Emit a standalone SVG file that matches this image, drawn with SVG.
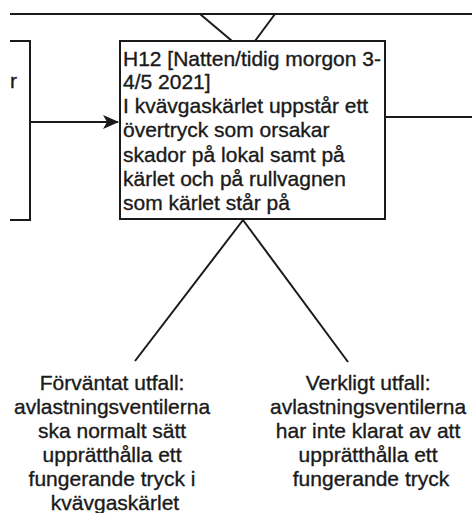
<svg xmlns="http://www.w3.org/2000/svg" width="472" height="513" viewBox="0 0 472 513">
<style>
.ln{stroke:#1a1a1a;stroke-width:2;fill:none}
.box{fill:#ffffff;stroke:#1a1a1a;stroke-width:2}
.t{font-family:"Liberation Sans",Arial,sans-serif;font-size:21px;fill:#1a1a1a;stroke:#1a1a1a;stroke-width:0.35}
.c{text-anchor:middle}
</style>
<defs>
<marker id="ah" viewBox="0 0 16 14" refX="15" refY="7" markerWidth="16" markerHeight="14" markerUnits="userSpaceOnUse" orient="auto">
<path d="M0,0 L16,7 L0,14 L4,7 Z" fill="#1a1a1a"/>
</marker>
</defs>
<rect width="472" height="513" fill="#ffffff"/>
<g id="connectors">
<line class="ln" x1="10" y1="14" x2="472" y2="14"/>
<line class="ln" x1="200" y1="14" x2="232" y2="41"/>
<line class="ln" x1="275" y1="14" x2="255" y2="41"/>
<line class="ln" x1="30" y1="122" x2="118" y2="122" marker-end="url(#ah)"/>
<line class="ln" x1="385" y1="117" x2="472" y2="117"/>
<line class="ln" x1="243" y1="220" x2="135" y2="361"/>
<line class="ln" x1="243" y1="220" x2="348" y2="362"/>
</g>
<g id="left-node">
<path class="ln" d="M10,41 H30 V220 H10"/>
<text class="t" x="10" y="88">r</text>
</g>
<g id="h12">
<rect class="box" x="120" y="41" width="265" height="178"/>
<text class="t">
<tspan x="123" y="66">H12 [Natten/tidig morgon 3-</tspan>
<tspan x="123" y="89">4/5 2021]</tspan>
<tspan x="123" y="113">I kvävgaskärlet uppstår ett</tspan>
<tspan x="123" y="137">övertryck som orsakar</tspan>
<tspan x="123" y="162">skador på lokal samt på</tspan>
<tspan x="123" y="186">kärlet och på rullvagnen</tspan>
<tspan x="123" y="210">som kärlet står på</tspan>
</text>
</g>
<g id="expected">
<text class="t c">
<tspan x="115" y="390">Förväntat utfall:</tspan>
<tspan x="115" y="414">avlastningsventilerna</tspan>
<tspan x="115" y="438">ska normalt sätt</tspan>
<tspan x="115" y="462">upprätthålla ett</tspan>
<tspan x="115" y="486">fungerande tryck i</tspan>
<tspan x="115" y="510">kvävgaskärlet</tspan>
</text>
</g>
<g id="actual">
<text class="t c">
<tspan x="371" y="390">Verkligt utfall:</tspan>
<tspan x="371" y="414">avlastningsventilerna</tspan>
<tspan x="371" y="438">har inte klarat av att</tspan>
<tspan x="371" y="462">upprätthålla ett</tspan>
<tspan x="371" y="486">fungerande tryck</tspan>
</text>
</g>
</svg>
